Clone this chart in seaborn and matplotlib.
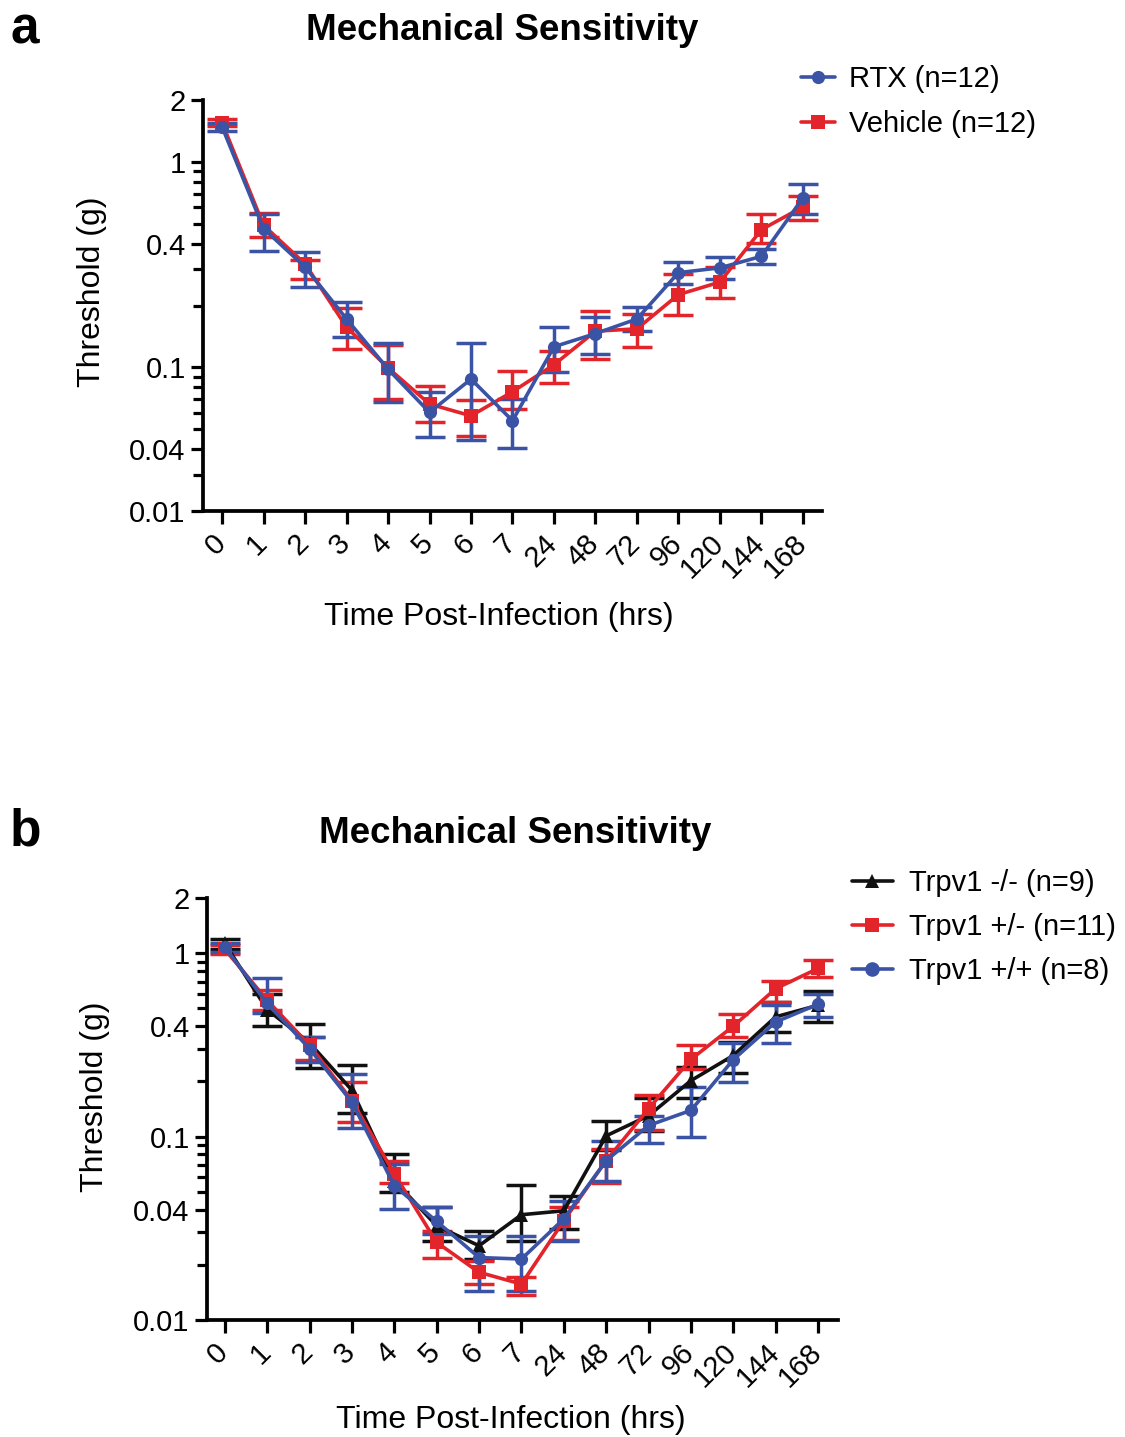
import numpy as np
import pandas as pd
import matplotlib
matplotlib.use("Agg")
import matplotlib.pyplot as plt
import matplotlib.transforms as mtransforms
from matplotlib.lines import Line2D
from matplotlib.ticker import LogLocator, NullFormatter
import seaborn as sns

# x categories (hours post-infection)
hours = ['0', '1', '2', '3', '4', '5', '6', '7', '24', '48', '72', '96', '120', '144', '168']

# panel a: RTX vs vehicle (mean, lower and upper end of error bar)
rtx_mean = [1.48, 0.473, 0.308, 0.172, 0.098, 0.0604, 0.0877, 0.055, 0.126, 0.146, 0.172, 0.289, 0.305, 0.347, 0.668]
rtx_low = [1.42, 0.367, 0.247, 0.140, 0.0675, 0.0459, 0.0443, 0.0403, 0.0946, 0.116, 0.151, 0.255, 0.270, 0.317, 0.560]
rtx_high = [1.54, 0.556, 0.364, 0.208, 0.131, 0.0755, 0.131, 0.0701, 0.157, 0.175, 0.196, 0.325, 0.344, 0.378, 0.778]

veh_mean = [1.55, 0.491, 0.319, 0.157, 0.0994, 0.0663, 0.0581, 0.0761, 0.103, 0.150, 0.154, 0.226, 0.260, 0.468, 0.604]
veh_low = [1.49, 0.431, 0.270, 0.123, 0.070, 0.054, 0.0464, 0.063, 0.0836, 0.110, 0.126, 0.179, 0.218, 0.403, 0.520]
veh_high = [1.61, 0.565, 0.334, 0.195, 0.128, 0.0814, 0.0693, 0.0956, 0.1206, 0.188, 0.182, 0.285, 0.308, 0.556, 0.680]

# panel b: Trpv1 genotypes
ko_mean = [1.13, 0.493, 0.324, 0.179, 0.0576, 0.0326, 0.0254, 0.0375, 0.0394, 0.101, 0.130, 0.202, 0.277, 0.450, 0.520]
ko_low = [1.06, 0.400, 0.238, 0.134, 0.050, 0.027, 0.0215, 0.027, 0.0313, 0.085, 0.107, 0.163, 0.222, 0.372, 0.422]
ko_high = [1.20, 0.602, 0.410, 0.245, 0.080, 0.0412, 0.0307, 0.0547, 0.0476, 0.121, 0.163, 0.239, 0.328, 0.542, 0.623]

het_mean = [1.05, 0.554, 0.315, 0.157, 0.0627, 0.0265, 0.0182, 0.0157, 0.0348, 0.074, 0.142, 0.264, 0.400, 0.641, 0.826]
het_low = [0.99, 0.489, 0.261, 0.120, 0.056, 0.0218, 0.0157, 0.0137, 0.0273, 0.0556, 0.108, 0.235, 0.349, 0.542, 0.743]
het_high = [1.11, 0.630, 0.350, 0.199, 0.074, 0.0307, 0.021, 0.0171, 0.0412, 0.0857, 0.168, 0.315, 0.469, 0.706, 0.916]

wt_mean = [1.08, 0.532, 0.302, 0.154, 0.054, 0.0345, 0.0219, 0.0215, 0.0356, 0.074, 0.115, 0.139, 0.263, 0.422, 0.527]
wt_low = [1.02, 0.470, 0.255, 0.112, 0.0403, 0.0294, 0.0144, 0.0144, 0.027, 0.0576, 0.092, 0.100, 0.198, 0.324, 0.450]
wt_high = [1.14, 0.737, 0.349, 0.220, 0.071, 0.0412, 0.0288, 0.0288, 0.0444, 0.0944, 0.129, 0.186, 0.324, 0.520, 0.597]

# y axis ticks as printed on each panel
a_yticks = [0.02, 0.04, 0.1, 0.4, 1, 2]
a_ylabels = ['0.01', '0.04', '0.1', '0.4', '1', '2']
b_yticks = [0.01, 0.04, 0.1, 0.4, 1, 2]
b_ylabels = ['0.01', '0.04', '0.1', '0.4', '1', '2']

BLUE = '#3a53a4'
RED = '#e3242b'
BLACK = '#111111'

sns.set_style("ticks")
plt.rcParams['font.family'] = ['Liberation Sans', 'DejaVu Sans']
plt.rcParams.update({'text.color': 'black', 'axes.labelcolor': 'black',
                     'xtick.color': 'black', 'ytick.color': 'black',
                     'axes.edgecolor': 'black'})

W, H = 1125, 1437
fig = plt.figure(figsize=(W / 100, H / 100), dpi=100)


def px_axes(left, top, right, bottom):
    return fig.add_axes([left / W, 1 - bottom / H, (right - left) / W, (bottom - top) / H])


def draw_panel(ax, series, ylim, yticks, ylabels, xlim):
    x = np.arange(len(hours))
    rows = []
    for name, mean, low, high, color, marker in series:
        rows.append(pd.DataFrame({'pos': x, 'value': mean, 'group': name}))
    df = pd.concat(rows, ignore_index=True)
    palette = {s[0]: s[4] for s in series}
    markers = {s[0]: s[5] for s in series}
    sns.lineplot(data=df, x='pos', y='value', hue='group', style='group',
                 palette=palette, markers=markers, dashes=False,
                 linewidth=2.6, markersize=9.5, markeredgewidth=0,
                 legend=False, ax=ax, zorder=3)
    for name, mean, low, high, color, marker in series:
        mean = np.array(mean)
        yerr = [mean - np.array(low), np.array(high) - mean]
        ax.errorbar(x, mean, yerr=yerr, fmt='none', ecolor=color,
                    elinewidth=2.5, capsize=11, capthick=2.5, zorder=2)
    ax.set_yscale('log')
    ax.set_ylim(*ylim)
    ax.set_xlim(*xlim)
    ax.set_yticks(yticks, ylabels)
    ax.yaxis.set_minor_locator(LogLocator(base=10, subs=np.arange(2, 10)))
    ax.yaxis.set_minor_formatter(NullFormatter())
    ax.set_xticks(x, hours)
    ax.tick_params(axis='both', which='major', labelsize=21, width=2.3, length=9, color='black')
    ax.tick_params(axis='y', which='minor', width=2.3, length=7, color='black')
    ax.tick_params(axis='x', pad=4)
    # rotated hour labels, nudged so their right end sits just past the tick
    offset = mtransforms.ScaledTranslation(9 / 100, 0, fig.dpi_scale_trans)
    for lab in ax.get_xticklabels():
        lab.set_rotation(45)
        lab.set_ha('right')
        lab.set_transform(lab.get_transform() + offset)
    for side in ['top', 'right']:
        ax.spines[side].set_visible(False)
    for side in ['left', 'bottom']:
        ax.spines[side].set_linewidth(2.7)
        ax.spines[side].set_color('black')
    ax.set_xlabel('Time Post-Infection (hrs)', fontsize=23)
    ax.set_ylabel('Threshold (g)', fontsize=23)
    ax.xaxis.label.set_va('center')
    ax.yaxis.label.set_va('center')


# panel a
ax_a = px_axes(203, 100, 822, 511)
series_a = [
    ('Vehicle (n=12)', veh_mean, veh_low, veh_high, RED, 's'),
    ('RTX (n=12)', rtx_mean, rtx_low, rtx_high, BLUE, 'o'),
]
draw_panel(ax_a, series_a, (0.02, 2), a_yticks, a_ylabels, (-0.46, 14.46))
ax_a.xaxis.set_label_coords((499 - 203) / 619, (511 - 617) / 411)
ax_a.yaxis.set_label_coords((92 - 203) / 619, (511 - 292) / 411)

handles_a = [Line2D([], [], color=BLUE, marker='o', lw=2.6, ms=9.5, mew=0),
             Line2D([], [], color=RED, marker='s', lw=2.6, ms=9.5, mew=0)]
ax_a.legend(handles_a, ['RTX (n=12)', 'Vehicle (n=12)'], loc='upper left',
            bbox_to_anchor=(801 / W, 1 - 65 / H), bbox_transform=fig.transFigure,
            frameon=False, fontsize=21, handlelength=1.15, handletextpad=0.5,
            labelspacing=0.58, borderpad=0, borderaxespad=0)

# panel b
ax_b = px_axes(207, 898, 838, 1320)
series_b = [
    ('Trpv1 -/- (n=9)', ko_mean, ko_low, ko_high, BLACK, '^'),
    ('Trpv1 +/- (n=11)', het_mean, het_low, het_high, RED, 's'),
    ('Trpv1 +/+ (n=8)', wt_mean, wt_low, wt_high, BLUE, 'o'),
]
draw_panel(ax_b, series_b, (0.01, 2), b_yticks, b_ylabels, (-0.42, 14.47))
ax_b.xaxis.set_label_coords((511 - 207) / 631, (1320 - 1420) / 422)
ax_b.yaxis.set_label_coords((95 - 207) / 631, (1320 - 1097) / 422)

handles_b = [Line2D([], [], color=BLACK, marker='^', lw=2.6, ms=10.5, mew=0),
             Line2D([], [], color=RED, marker='s', lw=2.6, ms=9.5, mew=0),
             Line2D([], [], color=BLUE, marker='o', lw=2.6, ms=10.5, mew=0)]
ax_b.legend(handles_b, [s[0] for s in series_b], loc='upper left',
            bbox_to_anchor=(852 / W, 1 - 869 / H), bbox_transform=fig.transFigure,
            frameon=False, fontsize=21, handlelength=1.4, handletextpad=0.55,
            labelspacing=0.55, borderpad=0, borderaxespad=0)

# titles and panel letters
fig.text(502 / W, 1 - 40 / H, 'Mechanical Sensitivity', ha='center', va='baseline',
         fontsize=26.5, fontweight='bold')
fig.text(515 / W, 1 - 843 / H, 'Mechanical Sensitivity', ha='center', va='baseline',
         fontsize=26.5, fontweight='bold')
fig.text(10 / W, 1 - 43 / H, 'a', ha='left', va='baseline', fontsize=37, fontweight='bold')
fig.text(10 / W, 1 - 845 / H, 'b', ha='left', va='baseline', fontsize=37, fontweight='bold')

fig.savefig('out.png', dpi=100)
